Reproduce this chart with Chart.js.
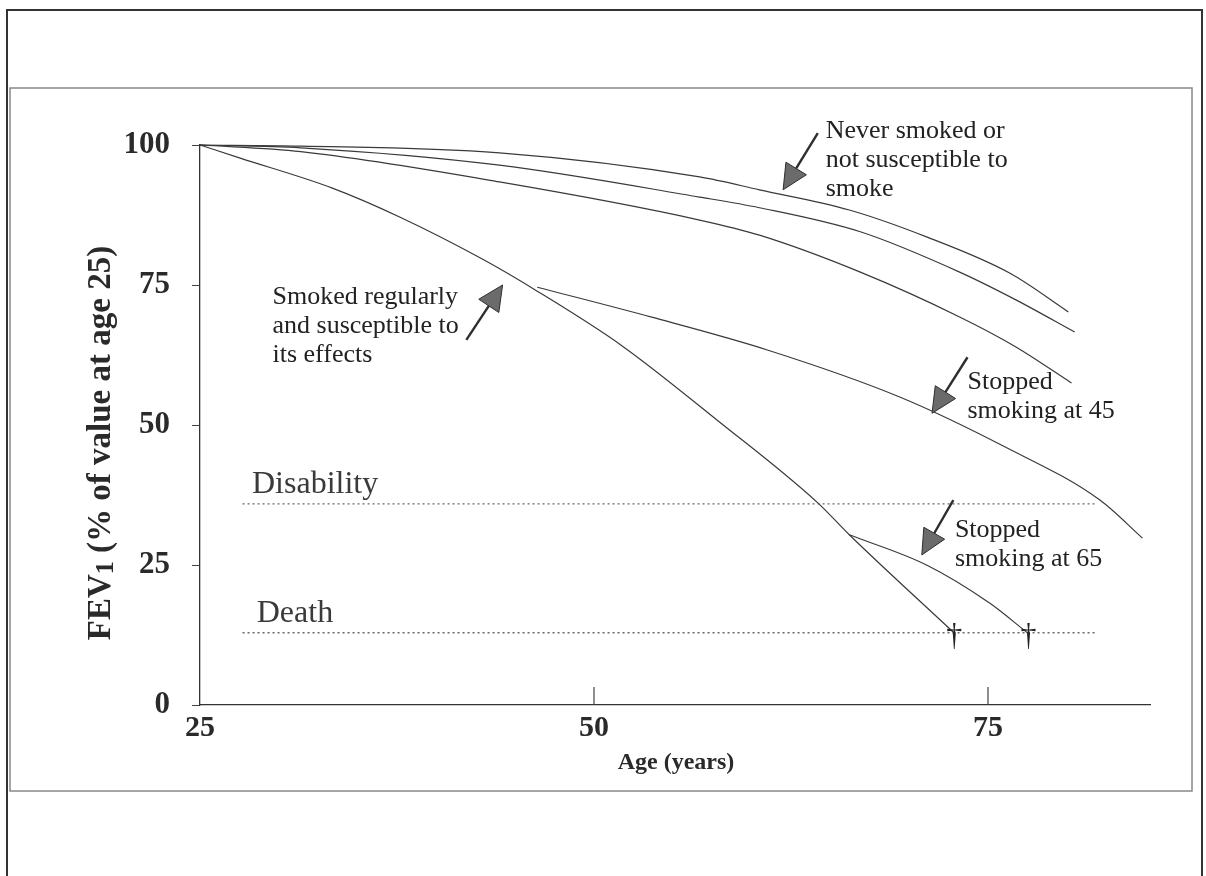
<!DOCTYPE html>
<html>
<head>
<meta charset="utf-8">
<script src="https://cdn.jsdelivr.net/npm/chart.js@4.4.1/dist/chart.umd.min.js"></script>
<style>
  html, body { margin: 0; padding: 0; background: #fff; }
</style>
</head>
<body>
<canvas id="fevChart" width="1206" height="876"></canvas>
<script>
// values: age (years) and FEV1 (% of value at age 25)
const neverAges = [25, 31.4, 44, 56.7, 60.5, 66.2, 71.1, 76.4, 80.1];
const neverFev = [100, 99.8, 98.6, 94.3, 92, 88.4, 83.6, 77.1, 70.2];

const secondAges = [25, 31.4, 44, 56.7, 60.5, 66.9, 73.2, 76.8, 80.5];
const secondFev = [100, 99.5, 96.4, 90.7, 88.8, 84.5, 77.3, 72.3, 66.6];

const thirdAges = [25, 31.4, 44, 56.7, 60.5, 66.9, 73.2, 76.8, 80.3];
const thirdFev = [100, 98.8, 93.4, 86.6, 83.9, 77.3, 69.3, 63.9, 57.5];

const smokerAges = [25, 27.5, 33.4, 37.7, 43, 46.4, 51.7, 57.8, 64.2, 66.2, 72.8];
const smokerFev = [100, 97.7, 92.3, 87.1, 79.5, 73.9, 64.3, 50.9, 36.1, 30.4, 13];

const stop45Ages = [46.4, 53.6, 61, 69.4, 76, 82.1, 84.8];
const stop45Fev = [74.6, 69.3, 63.4, 55, 46.2, 36.6, 29.8];

const stop65Ages = [66.2, 71.1, 75.1, 77.5];
const stop65Fev = [30.4, 25, 18.2, 12.9];

const disabilityLevel = 35.9;
const deathLevel = 12.9;
const levelAges = [27.7, 81.9];
const deathAges = [72.8, 77.5];

const xTicks = [25, 50, 75];
const yTicks = [0, 25, 50, 75, 100];

const serif = '"Liberation Serif", "Times New Roman", serif';

function points(ages, values) {
  return ages.map((a, i) => ({ x: a, y: values[i] }));
}

function curve(ages, values) {
  return {
    data: points(ages, values),
    borderColor: "#3a3a3a",
    borderWidth: 1.2,
    pointRadius: 0,
    cubicInterpolationMode: "monotone",
    fill: false,
    clip: 6
  };
}

function level(value) {
  return {
    data: levelAges.map(a => ({ x: a, y: value })),
    borderColor: "#666",
    borderWidth: 1.3,
    borderDash: [2, 3],
    pointRadius: 0,
    fill: false
  };
}

// annotation texts, placed in data units (age, FEV1)
const notes = [
  { age: 64.7, fev: 102.5, size: 26, lines: ["Never smoked or", "not susceptible to", "smoke"] },
  { age: 29.6, fev: 72.9, size: 26, lines: ["Smoked regularly", "and susceptible to", "its effects"] },
  { age: 73.7, fev: 57.7, size: 26, lines: ["Stopped", "smoking at 45"] },
  { age: 72.9, fev: 31.25, size: 26, lines: ["Stopped", "smoking at 65"] },
  { age: 28.3, fev: 39.3, size: 32, lines: ["Disability"] },
  { age: 28.6, fev: 16.4, size: 32, lines: ["Death"] }
];

// arrows: [tail age, tail fev, tip age, tip fev]
const arrows = [
  [64.2, 102.1, 62.0, 92.0],
  [41.9, 65.2, 44.2, 75.0],
  [73.7, 62.1, 71.45, 52.1],
  [72.8, 36.6, 70.8, 26.8]
];

function drawArrow(ctx, x1, y1, x2, y2) {
  const ang = Math.atan2(y2 - y1, x2 - x1);
  const len = 25, half = 12;
  const bx = x2 - len * Math.cos(ang);
  const by = y2 - len * Math.sin(ang);
  ctx.strokeStyle = "#2e2e2e";
  ctx.lineWidth = 2.4;
  ctx.beginPath();
  ctx.moveTo(x1, y1);
  ctx.lineTo(bx, by);
  ctx.stroke();
  ctx.beginPath();
  ctx.moveTo(x2, y2);
  ctx.lineTo(bx + half * Math.sin(ang), by - half * Math.cos(ang));
  ctx.lineTo(bx - half * Math.sin(ang), by + half * Math.cos(ang));
  ctx.closePath();
  ctx.fillStyle = "#6b6b6b";
  ctx.fill();
  ctx.lineWidth = 1;
  ctx.stroke();
}

const framePlugin = {
  id: "frame",
  beforeDraw(chart) {
    const ctx = chart.ctx;
    ctx.save();
    ctx.fillStyle = "#fff";
    ctx.fillRect(0, 0, chart.width, chart.height);
    // outer page frame
    ctx.strokeStyle = "#333";
    ctx.lineWidth = 2;
    ctx.beginPath();
    ctx.moveTo(7, 876);
    ctx.lineTo(7, 10);
    ctx.lineTo(1202, 10);
    ctx.lineTo(1202, 876);
    ctx.stroke();
    // inner figure box
    ctx.strokeStyle = "#888";
    ctx.lineWidth = 1.5;
    ctx.strokeRect(10, 88, 1182, 703);
    ctx.restore();
  },
  afterDraw(chart) {
    const ctx = chart.ctx;
    const xs = chart.scales.x;
    const ys = chart.scales.y;
    const area = chart.chartArea;
    ctx.save();

    // inner tick marks on the age axis
    ctx.strokeStyle = "#444";
    ctx.lineWidth = 1.2;
    xTicks.slice(1).forEach(v => {
      const px = xs.getPixelForValue(v);
      ctx.beginPath();
      ctx.moveTo(px, area.bottom);
      ctx.lineTo(px, area.bottom - 18);
      ctx.stroke();
    });

    // axis titles
    ctx.fillStyle = "#2a2a2a";
    ctx.font = "bold 24px " + serif;
    ctx.textAlign = "center";
    ctx.textBaseline = "middle";
    ctx.fillText("Age (years)", 676, 763);

    ctx.save();
    ctx.translate(101, 443);
    ctx.rotate(-Math.PI / 2);
    const partA = "FEV";
    const partB = "1";
    const partC = " (% of value at age 25)";
    ctx.font = "bold 33px " + serif;
    const wA = ctx.measureText(partA).width;
    const wC = ctx.measureText(partC).width;
    ctx.font = "bold 26px " + serif;
    const wB = ctx.measureText(partB).width;
    const x0 = -(wA + wB + wC) / 2;
    ctx.textAlign = "left";
    ctx.font = "bold 33px " + serif;
    ctx.fillText(partA, x0, 0);
    ctx.font = "bold 26px " + serif;
    ctx.fillText(partB, x0 + wA, 5);
    ctx.font = "bold 33px " + serif;
    ctx.fillText(partC, x0 + wA + wB, 0);
    ctx.restore();

    // notes
    ctx.textAlign = "left";
    ctx.textBaseline = "middle";
    notes.forEach(n => {
      ctx.font = n.size + "px " + serif;
      ctx.fillStyle = n.size > 28 ? "#3a3a3a" : "#222";
      const px = xs.getPixelForValue(n.age);
      const py = ys.getPixelForValue(n.fev);
      n.lines.forEach((t, i) => ctx.fillText(t, px, py + i * 29));
    });

    arrows.forEach(a => {
      drawArrow(ctx,
        xs.getPixelForValue(a[0]), ys.getPixelForValue(a[1]),
        xs.getPixelForValue(a[2]), ys.getPixelForValue(a[3]));
    });

    // daggers where the curves reach the death line
    ctx.fillStyle = "#222";
    ctx.font = "32px " + serif;
    ctx.textAlign = "center";
    ctx.textBaseline = "middle";
    deathAges.forEach(a => {
      ctx.fillText("\u2020", xs.getPixelForValue(a) + 1, ys.getPixelForValue(deathLevel) + 4);
    });

    ctx.restore();
  }
};

new Chart(document.getElementById("fevChart"), {
  type: "line",
  data: {
    datasets: [
      curve(neverAges, neverFev),
      curve(secondAges, secondFev),
      curve(thirdAges, thirdFev),
      curve(smokerAges, smokerFev),
      curve(stop45Ages, stop45Fev),
      curve(stop65Ages, stop65Fev),
      level(disabilityLevel),
      level(deathLevel)
    ]
  },
  options: {
    responsive: false,
    animation: false,
    devicePixelRatio: 1,
    layout: { padding: { left: 0, right: 56, top: 145, bottom: 0 } },
    plugins: {
      legend: { display: false },
      tooltip: { enabled: false }
    },
    scales: {
      x: {
        type: "linear",
        min: 25,
        max: 85.28,
        afterBuildTicks(s) { s.ticks = xTicks.map(v => ({ value: v })); },
        afterFit(s) { s.height = 171; },
        grid: { display: false, drawTicks: false },
        border: { display: true, color: "#333", width: 1.3 },
        ticks: {
          padding: 5,
          color: "#2a2a2a",
          font: { family: serif, size: 30, weight: "bold" },
          maxRotation: 0
        }
      },
      y: {
        min: 0,
        max: 100,
        afterBuildTicks(s) { s.ticks = yTicks.map(v => ({ value: v })); },
        afterFit(s) { s.width = 200; },
        grid: { display: true, drawOnChartArea: false, drawTicks: true, tickLength: 8, color: "#444" },
        border: { display: true, color: "#333", width: 1.3 },
        ticks: {
          padding: 22,
          color: "#2a2a2a",
          font: { family: serif, size: 31, weight: "bold" }
        }
      }
    }
  },
  plugins: [framePlugin]
});
</script>
</body>
</html>
